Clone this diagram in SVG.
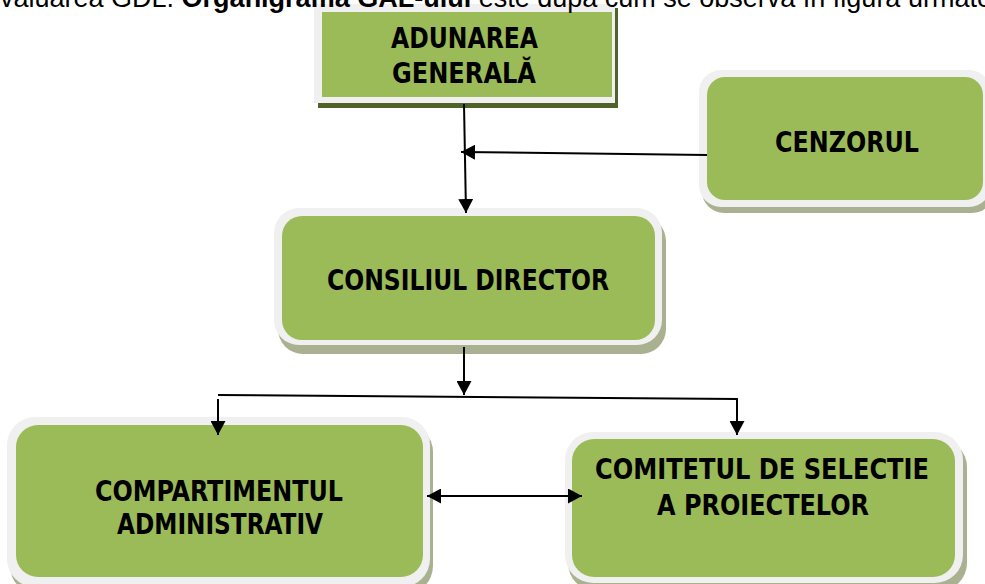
<svg xmlns="http://www.w3.org/2000/svg" width="985" height="584" viewBox="0 0 985 584">
<defs>
<style>
.lbl{font-family:"DejaVu Sans Condensed","DejaVu Sans",sans-serif;font-weight:bold;font-size:28px;fill:#000;text-anchor:middle}
.top{font-family:"Liberation Sans",Arial,sans-serif;font-size:27px;fill:#000}
.grey{fill:#f0f0f0}
.green{fill:#9bbb59}
.shadow{fill:#a9b190}
.con{stroke:#000;stroke-width:2;fill:none}
</style>
<marker id="ah" viewBox="0 0 14 15" refX="14" refY="7.5" markerWidth="14" markerHeight="15" markerUnits="userSpaceOnUse" orient="auto-start-reverse">
<path d="M0,0 L14,7.5 L0,15 z" fill="#000"/>
</marker>
</defs>
<rect width="985" height="584" fill="#fff"/>

<g id="adunarea">
<rect x="318" y="8" width="300" height="100" fill="#4f6228"/>
<rect class="grey" x="314" y="4" width="301" height="99"/>
<rect class="green" x="322" y="12" width="290" height="85"/>
<text class="lbl" x="464.5" y="48" textLength="147" lengthAdjust="spacingAndGlyphs">ADUNAREA</text>
<text class="lbl" x="464" y="83" textLength="144" lengthAdjust="spacingAndGlyphs">GENERALĂ</text>
</g>

<g id="cenzorul">
<rect class="shadow" x="702" y="76" width="292" height="137" rx="22"/>
<rect class="grey" x="699" y="70" width="292" height="137" rx="22"/>
<rect class="green" x="707" y="77" width="276" height="123" rx="18"/>
<text class="lbl" x="847" y="152" textLength="144" lengthAdjust="spacingAndGlyphs">CENZORUL</text>
</g>

<g id="consiliul">
<rect class="shadow" x="278" y="216" width="388" height="138" rx="25"/>
<rect class="grey" x="274" y="208" width="388" height="137" rx="25"/>
<rect class="green" x="282" y="216" width="373" height="124" rx="20"/>
<text class="lbl" x="468" y="290" textLength="282" lengthAdjust="spacingAndGlyphs">CONSILIUL DIRECTOR</text>
</g>

<g id="compartimentul">
<rect class="shadow" x="10" y="424" width="423" height="170" rx="28"/>
<rect class="grey" x="7" y="417" width="423" height="170" rx="28"/>
<rect class="green" x="16" y="425" width="407" height="152" rx="22"/>
<text class="lbl" x="219" y="501" textLength="248" lengthAdjust="spacingAndGlyphs">COMPARTIMENTUL</text>
<text class="lbl" x="220" y="534" textLength="206" lengthAdjust="spacingAndGlyphs">ADMINISTRATIV</text>
</g>

<g id="comitetul">
<rect class="shadow" x="568" y="439" width="399" height="152" rx="28"/>
<rect class="grey" x="565" y="432" width="398" height="151" rx="28"/>
<rect class="green" x="572" y="439" width="383" height="138" rx="22"/>
<text class="lbl" x="762" y="479" textLength="334" lengthAdjust="spacingAndGlyphs">COMITETUL DE SELECTIE</text>
<text class="lbl" x="763" y="515" textLength="212" lengthAdjust="spacingAndGlyphs">A PROIECTELOR</text>
</g>

<g id="connectors">
<line class="con" x1="464" y1="104" x2="466" y2="213" marker-end="url(#ah)"/>
<line class="con" x1="707" y1="155" x2="461" y2="152" marker-end="url(#ah)"/>
<line class="con" x1="464" y1="347" x2="464" y2="395" marker-end="url(#ah)"/>
<polyline class="con" points="218,395 737,399 737,435" marker-end="url(#ah)"/>
<line class="con" x1="218" y1="399" x2="218" y2="435" marker-end="url(#ah)"/>
<line class="con" x1="427" y1="496" x2="582" y2="496" marker-start="url(#ah)" marker-end="url(#ah)"/>
</g>

<text class="top" x="-15" y="7">evaluarea GDL. <tspan font-weight="bold">Organigrama GAL-ului</tspan> este după cum se observă în figura următoare</text>
</svg>
